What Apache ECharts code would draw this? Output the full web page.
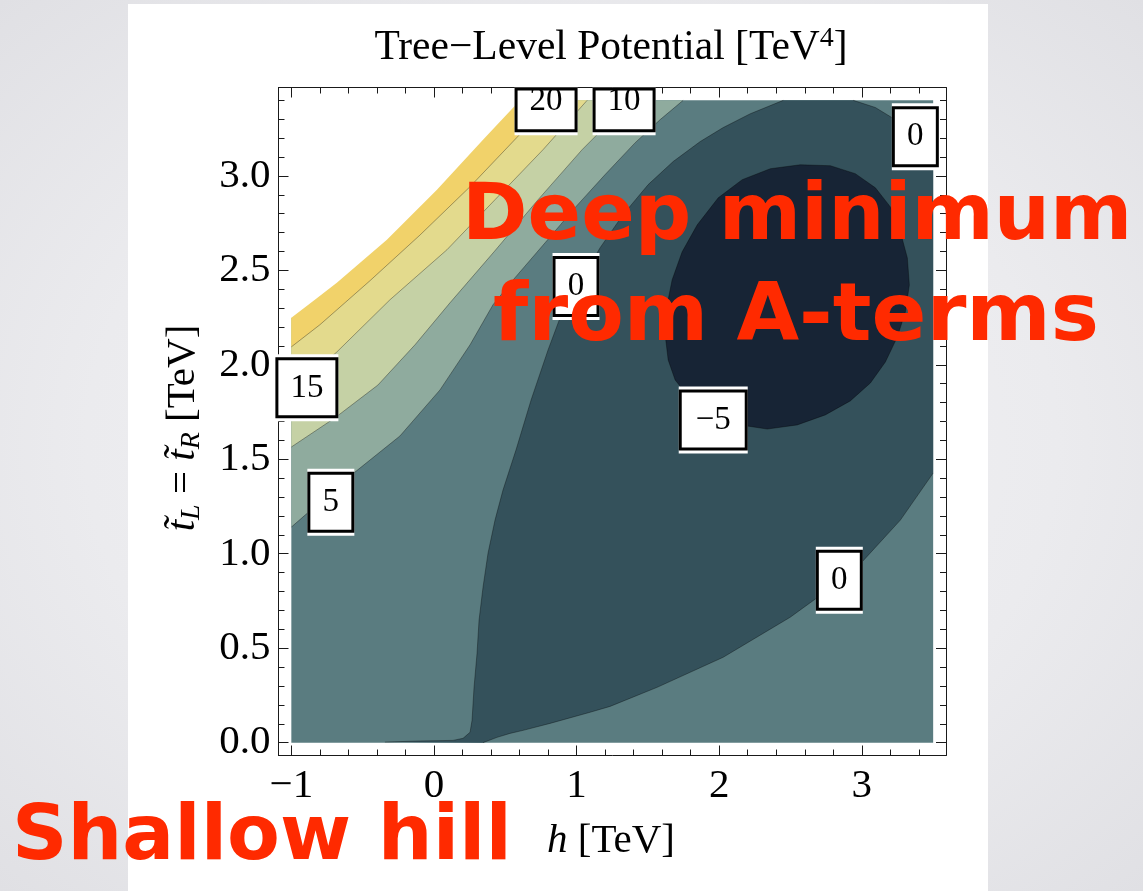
<!DOCTYPE html>
<html>
<head>
<meta charset="utf-8">
<script src="https://cdn.jsdelivr.net/npm/echarts@6/dist/echarts.min.js"></script>
<style>
html,body{margin:0;padding:0;width:1143px;height:891px;overflow:hidden;
  background:radial-gradient(ellipse at 50% 50%, #f4f4f6 0%, #ebebee 60%, #e0e0e4 100%);}
#panel{position:absolute;left:128px;top:4px;width:860px;height:887px;background:#ffffff;}
#chart{position:absolute;left:0;top:0;width:1143px;height:891px;}
</style>
</head>
<body>
<div id="panel"></div>
<div id="chart"></div>
<script>
// ---------------- data (h [TeV], t [TeV]) ----------------
// plotted range of the potential
const hRange = [-1, 3.5];
const tRange = [0, 3.4];

// upper edge of the coloured area (plot range clipped at V = 25)
const clipEdge25 = [[-1.0,2.249],[-0.835,2.344],[-0.681,2.434],[-0.330,2.662],[0.021,2.927],[0.344,3.192],[0.604,3.4]];
// contour V = 20
const contour20 = [[-1.0,2.095],[-0.800,2.212],[-0.625,2.328],[-0.449,2.445],[-0.098,2.687],[0.253,2.943],[0.582,3.204],[0.835,3.4]];
// contour V = 15
const contour15 = [[-1.0,1.856],[-0.681,2.068],[-0.309,2.344],[0.091,2.609],[0.428,2.874],[0.765,3.139],[1.074,3.4]];
// contour V = 10
const contour10 = [[-1.0,1.565],[-0.695,1.719],[-0.393,1.893],[-0.133,2.106],[0.112,2.328],[0.421,2.598],[0.730,2.874],[1.039,3.139],[1.235,3.288],[1.411,3.4]];
// contour V = 5
const contour5 = [[-1.0,1.141],[-0.589,1.411],[-0.239,1.623],[0.042,1.867],[0.253,2.106],[0.414,2.318],[0.568,2.461],[0.779,2.646],[0.989,2.832],[1.200,3.007],[1.411,3.176],[1.586,3.298],[1.747,3.4]];
// contour V = 0 : lower-right branch (right edge -> bottom)
const contour0Lower = [[3.5,1.427],[3.270,1.178],[2.968,0.929],[2.730,0.791],[2.498,0.664],[2.028,0.452],[1.565,0.293],[1.235,0.192],[1.095,0.161],[0.814,0.102],[0.625,0.065],[0.533,0.049],[0.442,0.028],[0.344,0.0]];
// contour V = 0 : thin sliver along t = 0 and left branch up to the top edge
const contour0Left = [[-0.344,0.003],[-0.100,0.009],[0.133,0.012],[0.204,0.023],[0.253,0.055],[0.267,0.118],[0.281,0.293],[0.302,0.473],[0.316,0.648],[0.344,0.823],[0.379,1.003],[0.428,1.178],[0.484,1.337],[0.575,1.549],[0.681,1.814],[0.800,2.079],[0.905,2.291],[1.011,2.424],[1.165,2.620],[1.326,2.795],[1.502,2.954],[1.677,3.076],[1.867,3.182],[2.028,3.256],[2.218,3.329],[2.449,3.4]];
// contour V = 0 : top-right corner branch
const contour0Upper = [[2.940,3.4],[3.095,3.362],[3.221,3.304],[3.375,3.218],[3.5,3.128]];
// contour V = -5 (closed)
const contourM5 = [[1.621,2.159],[1.635,2.318],[1.670,2.450],[1.740,2.598],[1.846,2.741],[1.993,2.884],[2.161,2.980],[2.358,3.038],[2.568,3.059],[2.779,3.054],[2.954,3.012],[3.095,2.937],[3.200,2.836],[3.270,2.704],[3.319,2.566],[3.333,2.423],[3.305,2.280],[3.249,2.148],[3.165,2.015],[3.060,1.904],[2.919,1.809],[2.744,1.735],[2.547,1.682],[2.337,1.660],[2.147,1.682],[1.951,1.735],[1.796,1.820],[1.691,1.920],[1.642,2.026]];

// contour labels
const labelTexts = ['20','10','0','0','15','5','\u22125','0'];
const labelH     = [0.786, 1.333, 3.375, 0.996, -0.891, -0.723, 1.958, 2.842];
const labelT     = [3.393, 3.393, 3.207, 2.414, 1.878, 1.273, 1.708, 0.860];

// ticks
const xMajorTicks = [-1, 0, 1, 2, 3];
const xMinorTicks = [-0.8,-0.6,-0.4,-0.2,0.2,0.4,0.6,0.8,1.2,1.4,1.6,1.8,2.2,2.4,2.6,2.8,3.2,3.4];
const yMajorTicks = [0, 0.5, 1, 1.5, 2, 2.5, 3];
const yMinorTicks = [0.1,0.2,0.3,0.4,0.6,0.7,0.8,0.9,1.1,1.2,1.3,1.4,1.6,1.7,1.8,1.9,2.1,2.2,2.3,2.4,2.6,2.7,2.8,2.9,3.1,3.2,3.3,3.4];

// ---------------- chart ----------------
const X_MIN = -1.09, X_MAX = 3.59, Y_MIN = -0.068, Y_MAX = 3.468;
const SERIF = '"Liberation Serif", "Times New Roman", serif';
const FRAME = '#1a1a1a';
const EDGE_H = 0.012, EDGE_T = 0.01;   // tiny overdraw of the clipped (white) area so no anti-alias fringe shows

const measureCtx = document.createElement('canvas').getContext('2d');
measureCtx.font = '33px "Liberation Serif"';

function polygonSeries(pts, fill) {
  return {
    type: 'custom', silent: true, clip: false, animation: false,
    data: [[pts[0][0], pts[0][1]]],
    renderItem: (params, api) => ({
      type: 'polygon',
      shape: { points: pts.map(p => api.coord(p)) },
      style: { fill: fill }
    })
  };
}
function strokeSeries(pts, closed) {
  return {
    type: 'custom', silent: true, clip: false, animation: false,
    data: [[pts[0][0], pts[0][1]]],
    renderItem: (params, api) => ({
      type: closed ? 'polygon' : 'polyline',
      shape: { points: pts.map(p => api.coord(p)) },
      style: { fill: 'none', stroke: 'rgba(0,0,0,0.33)', lineWidth: 1 }
    })
  };
}

const corner = [hRange[0], tRange[1]];
const plotRect = [[hRange[0],tRange[0]],[hRange[1],tRange[0]],[hRange[1],tRange[1]],[hRange[0],tRange[1]]];
const belowZero = contour0Lower.concat(contour0Left, contour0Upper);
const lastClip = clipEdge25[clipEdge25.length - 1];
const clippedArea = [[hRange[0] - EDGE_H, clipEdge25[0][1]]].concat(clipEdge25,
  [[lastClip[0] + EDGE_H, tRange[1] + EDGE_T], [hRange[0] - EDGE_H, tRange[1] + EDGE_T]]);

function xAxisDef(position, ticks, len, main) {
  return {
    type: 'value', position: position, min: X_MIN, max: X_MAX,
    axisLine: { show: main, onZero: false, lineStyle: { color: FRAME, width: 1 } },
    axisTick: { show: true, inside: true, length: len, customValues: ticks, lineStyle: { color: FRAME, width: 1 } },
    axisLabel: { show: main && position === 'bottom', customValues: ticks, margin: 10,
      fontFamily: SERIF, fontSize: 41, color: '#000',
      formatter: v => (v < 0 ? '\u2212' + Math.abs(v) : String(v)) },
    splitLine: { show: false }
  };
}
function yAxisDef(position, ticks, len, main) {
  return {
    type: 'value', position: position, min: Y_MIN, max: Y_MAX,
    axisLine: { show: main, onZero: false, lineStyle: { color: FRAME, width: 1 } },
    axisTick: { show: true, inside: true, length: len, customValues: ticks, lineStyle: { color: FRAME, width: 1 } },
    axisLabel: { show: main && position === 'left', customValues: ticks, margin: 8,
      fontFamily: SERIF, fontSize: 41, color: '#000',
      formatter: v => v.toFixed(1) },
    splitLine: { show: false }
  };
}

const option = {
  backgroundColor: 'transparent',
  animation: false,
  grid: { left: 278.5, top: 87.5, width: 667.5, height: 668, containLabel: false },
  xAxis: [
    xAxisDef('bottom', xMajorTicks, 10, true),
    xAxisDef('bottom', xMinorTicks, 6, false),
    xAxisDef('top', xMajorTicks, 10, true),
    xAxisDef('top', xMinorTicks, 6, false)
  ],
  yAxis: [
    yAxisDef('left', yMajorTicks, 10, true),
    yAxisDef('left', yMinorTicks, 6, false),
    yAxisDef('right', yMajorTicks, 10, true),
    yAxisDef('right', yMinorTicks, 6, false)
  ],
  series: [
    polygonSeries(plotRect, '#5a7c80'),
    polygonSeries(contour5.concat([corner]), '#8fab9e'),
    polygonSeries(contour10.concat([corner]), '#c5d1a5'),
    polygonSeries(contour15.concat([corner]), '#e3da8d'),
    polygonSeries(contour20.concat([corner]), '#f1d26a'),
    polygonSeries(clippedArea, '#ffffff'),
    polygonSeries(belowZero, '#34515b'),
    polygonSeries(contourM5, '#172435'),
    strokeSeries(contour20, false),
    strokeSeries(contour15, false),
    strokeSeries(contour10, false),
    strokeSeries(contour5, false),
    strokeSeries(contour0Lower, false),
    strokeSeries(contour0Left, false),
    strokeSeries(contour0Upper, false),
    strokeSeries(contourM5, true),
    {
      type: 'custom', silent: true, clip: false, animation: false, z: 5,
      data: labelTexts.map((s, i) => [labelH[i], labelT[i], i]),
      renderItem: (params, api) => {
        const i = api.value(2);
        const c = api.coord([api.value(0), api.value(1)]);
        const txt = labelTexts[i];
        const w = Math.round(measureCtx.measureText(txt).width) + 30 + (txt.length > 1 && txt[0] === '\u2212' ? 4 : 0);
        const h = 61;
        let top = c[1] - h / 2;
        const bottom = c[1] + h / 2;
        const gTop = params.coordSys.y;
        const clipped = top < gTop;
        if (clipped) top = gTop;
        const whiteTop = clipped ? top : top - 3;
        return {
          type: 'group',
          children: [
            { type: 'rect', shape: { x: c[0] - w / 2, y: whiteTop, width: w, height: bottom + 3 - whiteTop },
              style: { fill: '#ffffff' } },
            { type: 'rect', shape: { x: c[0] - w / 2 + 1.5, y: top + 1.5, width: w - 3, height: bottom - top - 3 },
              style: { fill: '#ffffff', stroke: '#000', lineWidth: 3 } },
            { type: 'text', x: c[0], y: c[1],
              style: { text: txt, fontFamily: SERIF, fontSize: 33, fill: '#000', align: 'center', verticalAlign: 'middle' } }
          ]
        };
      }
    }
  ],
  graphic: [
    { type: 'text', x: 611, y: 48, z: 10,
      style: { text: '{m|Tree\u2212Level Potential [TeV}{s|4}{m|]}', align: 'center', verticalAlign: 'middle', fill: '#000',
        rich: { m: { fontFamily: SERIF, fontSize: 41.5, lineHeight: 46, fill: '#000' },
                s: { fontFamily: SERIF, fontSize: 28, lineHeight: 27, verticalAlign: 'top', fill: '#000' } } } },
    { type: 'text', x: 611, y: 841, z: 10,
      style: { text: '{i|h}{n| [TeV]}', align: 'center', verticalAlign: 'middle', fill: '#000',
        rich: { i: { fontFamily: SERIF, fontStyle: 'italic', fontSize: 41, lineHeight: 46, fill: '#000' },
                n: { fontFamily: SERIF, fontSize: 41, lineHeight: 46, fill: '#000' } } } },
    { type: 'text', x: 183, y: 428, rotation: Math.PI / 2, z: 10,
      style: { text: '{i|t\u0303}{s|L}{n| = }{i|t\u0303}{s|R}{n| [TeV]}', align: 'center', verticalAlign: 'middle', fill: '#000',
        rich: { i: { fontFamily: SERIF, fontStyle: 'italic', fontSize: 41, lineHeight: 46, fill: '#000' },
                s: { fontFamily: SERIF, fontStyle: 'italic', fontSize: 28, lineHeight: 28, verticalAlign: 'bottom', fill: '#000' },
                n: { fontFamily: SERIF, fontSize: 41, lineHeight: 46, fill: '#000' } } } },
    { type: 'text', x: 462, y: 218, z: 50,
      style: { text: 'Deep minimum', fontFamily: 'DejaVu Sans', fontWeight: 'bold', fontSize: 79, fill: '#ff2a00', align: 'left', verticalAlign: 'middle' } },
    { type: 'text', x: 493, y: 319, z: 50,
      style: { text: 'from A-terms', fontFamily: 'DejaVu Sans', fontWeight: 'bold', fontSize: 81, fill: '#ff2a00', align: 'left', verticalAlign: 'middle' } },
    { type: 'text', x: 12, y: 839, z: 50,
      style: { text: 'Shallow hill', fontFamily: 'DejaVu Sans', fontWeight: 'bold', fontSize: 77, fill: '#ff2a00', align: 'left', verticalAlign: 'middle' } }
  ]
};

const chart = echarts.init(document.getElementById('chart'), null, { renderer: 'canvas' });
chart.setOption(option);
</script>
</body>
</html>
